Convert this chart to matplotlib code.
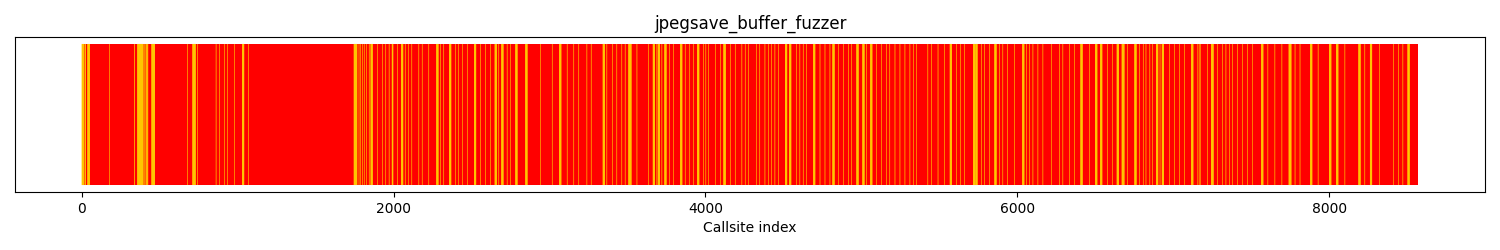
import numpy as np
import matplotlib
matplotlib.use("Agg")
import matplotlib.pyplot as plt

title = "jpegsave_buffer_fuzzer"
xlabel = "Callsite index"
n_callsites = 8572

# Covered callsites as (start index, run length)
hit_ranges = [
    (0, 14), (19, 6), (36, 16), (176, 2), (336, 3), (356, 38), (398, 3), (410, 6),
    (420, 5), (447, 22), (678, 2), (710, 20), (742, 2), (860, 2), (881, 2), (913, 2),
    (935, 2), (978, 2), (1028, 13), (1067, 2),
    (1745, 21), (1777, 2), (1788, 2), (1800, 2), (1810, 2), (1826, 2), (1842, 2),
    (1853, 13), (1896, 2), (1928, 2), (1949, 2), (1970, 2), (1989, 8), (2024, 2),
    (2048, 13), (2073, 2), (2095, 2), (2116, 2),
    (2161, 2), (2182, 2), (2225, 2), (2274, 13), (2300, 2), (2321, 2), (2356, 13),
    (2396, 2), (2417, 2), (2439, 2), (2471, 2), (2516, 13), (2557, 2), (2589, 2),
    (2621, 2), (2649, 13), (2674, 2), (2691, 13), (2727, 2), (2749, 2), (2781, 13),
    (2845, 13), (2942, 2), (3016, 2), (3062, 13), (3112, 2), (3155, 2), (3187, 2),
    (3239, 2), (3266, 2), (3342, 13), (3367, 2), (3404, 2), (3431, 2), (3463, 2),
    (3484, 2), (3506, 19), (3560, 2), (3635, 2), (3663, 13), (3688, 2), (3695, 13),
    (3720, 2), (3737, 13), (3767, 2), (3795, 2), (3838, 13), (3869, 2), (3895, 2),
    (3923, 2), (3947, 13), (3987, 2), (4002, 2), (4019, 2), (4062, 2), (4094, 2),
    (4116, 14), (4158, 2), (4190, 2), (4233, 2), (4254, 2), (4276, 2),
    (4327, 2), (4348, 2), (4381, 2), (4402, 2), (4423, 2), (4445, 2), (4466, 2),
    (4511, 13), (4537, 13), (4584, 2), (4605, 2), (4626, 2), (4648, 2), (4691, 13),
    (4734, 2), (4766, 2), (4798, 2), (4815, 13), (4851, 2), (4883, 2), (4915, 2),
    (4937, 2), (4969, 13), (5007, 13), (5033, 2), (5057, 13), (5097, 2), (5129, 2),
    (5161, 2), (5182, 2), (5215, 2), (5247, 2), (5279, 2), (5311, 2), (5332, 2),
    (5354, 2),
    (5426, 2), (5448, 2), (5491, 2), (5533, 2), (5568, 13), (5608, 2), (5636, 2),
    (5662, 2), (5717, 13), (5732, 13), (5768, 2), (5790, 2), (5822, 2), (5854, 13),
    (5886, 2), (5907, 2), (5935, 2), (5982, 2), (6032, 13), (6057, 2), (6079, 2),
    (6100, 2), (6132, 2), (6164, 2), (6217, 2), (6271, 2), (6292, 2), (6335, 2),
    (6367, 2), (6406, 13),
    (6461, 2), (6500, 13), (6532, 13), (6579, 2), (6611, 2), (6639, 13), (6671, 13),
    (6686, 2), (6707, 2), (6752, 13), (6782, 2), (6807, 2), (6825, 2), (6850, 2),
    (6868, 2), (6891, 13), (6915, 2), (6928, 13), (6975, 2), (7007, 2), (7039, 2),
    (7071, 2), (7116, 13), (7158, 2), (7166, 2), (7174, 2), (7221, 2), (7244, 13),
    (7259, 2), (7285, 2), (7317, 2), (7338, 2), (7360, 2), (7381, 2), (7413, 2),
    (7445, 2), (7477, 2), (7509, 2),
    (7565, 13), (7607, 2), (7652, 2), (7697, 2), (7742, 16), (7781, 2), (7813, 2),
    (7879, 13), (7929, 2), (8001, 13), (8046, 13), (8101, 2), (8189, 13), (8229, 2),
    (8263, 13), (8321, 2), (8411, 2), (8443, 2), (8473, 2), (8504, 13),
]

hit_color = "gold"
miss_color = "red"

counts = np.zeros(n_callsites)
for start, length in hit_ranges:
    counts[start:start + length] = 1
idx = np.arange(n_callsites)
hit = counts > 0

fig = plt.figure(figsize=(15, 2.5), dpi=100)
ax = fig.add_axes([0.01, 0.232, 0.98, 0.62])
# base layer: every callsite
ax.bar(idx, np.ones(n_callsites), width=1, color=miss_color, linewidth=0)
# covered callsites drawn on top
ax.bar(idx[hit], np.ones(hit.sum()), width=1, color=hit_color,
       edgecolor=hit_color, linewidth=0.08, snap=False)
ax.set_ylim(-0.05, 1.05)
ax.set_yticks([])
ax.set_title(title)
ax.set_xlabel(xlabel)
fig.savefig("out.png", dpi=100)
